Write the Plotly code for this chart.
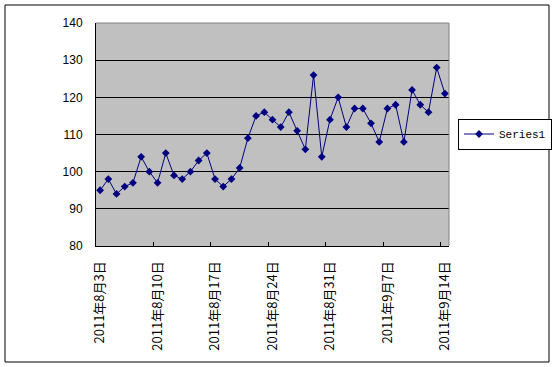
import pandas as pd
import plotly.graph_objects as go

# ---- data ----
dates = pd.date_range("2011-08-03", "2011-09-14", freq="D")
date_labels = [f"{d.year}年{d.month}月{d.day}日" for d in dates]
series_name = "Series1"
values = [95, 98, 94, 96, 97, 104, 100, 97, 105, 99, 98, 100, 103, 105,
          98, 96, 98, 101, 109, 115, 116, 114, 112, 116, 111, 106, 126, 104,
          114, 120, 112, 117, 117, 113, 108, 117, 118, 108, 122, 118, 116, 128, 121]
y_ticks = [80, 90, 100, 110, 120, 130, 140]

W, H = 555, 367
L, R, T, B = 96, 106, 23, 121
pw, ph = W - L - R, H - T - B

def px(x):
    return (x - L) / pw

def py(y):
    return (H - B - y) / ph

fig = go.Figure()
fig.add_trace(go.Scatter(
    x=date_labels, y=values, name=series_name, mode="lines+markers",
    line=dict(color="#000080", width=1),
    marker=dict(symbol="diamond", size=6, color="#000080"),
    showlegend=True,
))

fig.update_layout(
    width=W, height=H,
    margin=dict(l=L, r=R, t=T, b=B, pad=0, autoexpand=False),
    paper_bgcolor="white",
    plot_bgcolor="#C0C0C0",
    xaxis=dict(
        type="category", range=[-0.5, len(date_labels) - 0.5],
        tickmode="linear", tick0=0, dtick=7,
        tickson="boundaries", ticks="inside", ticklen=4, tickcolor="black",
        showgrid=False, showline=True, linecolor="black", linewidth=1,
        tickangle=-90, ticklabelstandoff=9, automargin=False,
        tickfont=dict(family="Noto Sans CJK SC", size=13, color="black"),
        zeroline=False,
    ),
    yaxis=dict(
        range=[80, 140], tickmode="array", tickvals=y_ticks,
        showgrid=True, gridcolor="black", gridwidth=1,
        showline=True, linecolor="black", linewidth=1,
        ticks="", ticklabelstandoff=10, automargin=False,
        tickfont=dict(family="Liberation Sans", size=12, color="black"),
        zeroline=False,
    ),
    legend=dict(
        x=px(458), y=py(134), xanchor="left", yanchor="middle",
        bordercolor="black", borderwidth=1, bgcolor="white",
        font=dict(family="Liberation Mono", size=11, color="black"),
        itemwidth=30, tracegroupgap=0,
    ),
    shapes=[
        dict(type="line", xref="paper", yref="paper", x0=0, x1=1, y0=1, y1=1,
             line=dict(color="#808080", width=1), layer="above"),
        dict(type="line", xref="paper", yref="paper", x0=1, x1=1, y0=0, y1=1,
             line=dict(color="#808080", width=1), layer="above"),
        dict(type="rect", xref="paper", yref="paper",
             x0=px(5), x1=px(549), y0=py(362), y1=py(5),
             line=dict(color="black", width=1), fillcolor="rgba(0,0,0,0)"),
    ],
)

fig.write_html(
    "out.html",
    config={"displayModeBar": False},
    post_script="document.body.style.margin='0';document.body.style.overflow='hidden';",
)
